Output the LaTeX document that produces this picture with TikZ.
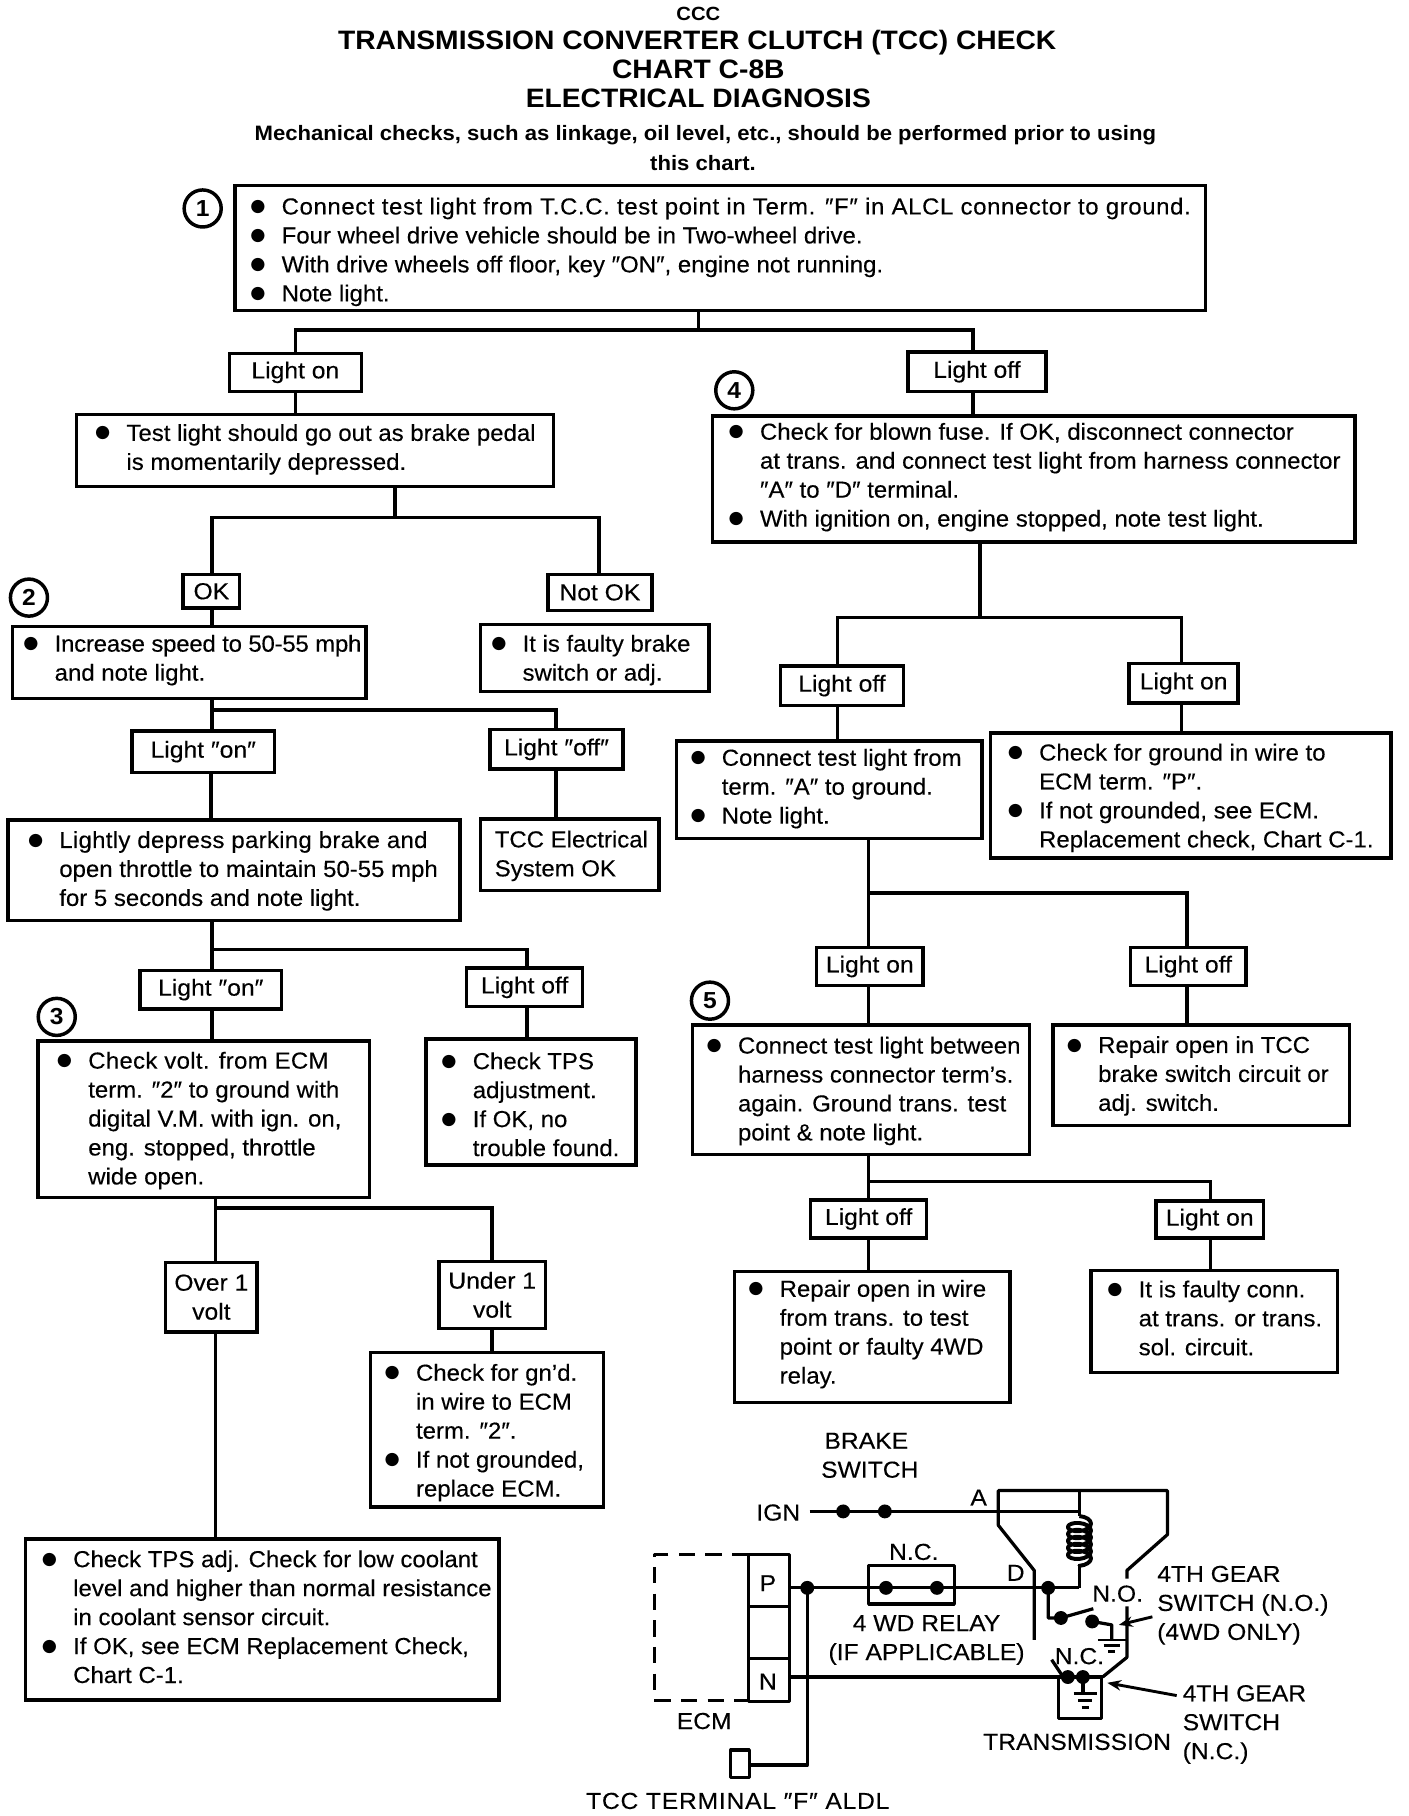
\documentclass[tikz,border=0pt]{standalone}
\usepackage{fontspec}
\setmainfont{Liberation Sans}[FakeStretch=1.035,FakeBold=0.25]
\newfontfamily\wfont{Liberation Sans}[FakeStretch=1.065,FakeBold=0.25]
\newfontfamily\ttlfont{Liberation Sans}[FakeStretch=1.06]
\newfontfamily\dotfont{DejaVu Sans}
\usetikzlibrary{arrows.meta,decorations.pathmorphing}
\tikzset{
 boxn/.style={draw=black,line width=3pt,inner sep=0pt,fill=none},
 conn/.style={draw=black,line width=3pt},
 wire/.style={draw=black,line width=2.8pt,line join=round},
 txt/.style={inner sep=0pt,align=left,font=\fontsize{20}{25}\selectfont},
 wtxt/.style={inner sep=0pt,align=left,font=\wfont\fontsize{20}{25}\selectfont},
 lab/.style={draw=black,line width=3pt,inner sep=0pt,align=center,font=\wfont\fontsize{20}{25}\selectfont},
 num/.style={draw=black,line width=3pt,circle,minimum size=32pt,inner sep=0pt,font=\ttlfont\bfseries\fontsize{20}{22}\selectfont},
 ttl/.style={inner sep=0pt,align=center,font=\ttlfont\bfseries\fontsize{23}{25}\selectfont},
 sttl/.style={inner sep=0pt,align=center,font=\ttlfont\bfseries\fontsize{18}{25}\selectfont},
 jdot/.style={fill=black,draw=none,circle,minimum size=12pt,inner sep=0pt},
 arr/.style={draw=black,line width=2.5pt,-{Stealth[length=12pt,width=9pt]}}
}
\newcommand\bl{\makebox[27pt][l]{\raisebox{2.5pt}{\dotfont\fontsize{15}{15}\selectfont ●}}}
\newcommand\ct{\makebox[27pt]{}}
\newcommand\bx[8]{%
 \node[boxn,minimum width={(#4-#2)*1pt},minimum height={(#5-#3)*1pt}] (#1) at ({(#2+#4)/2},{(#3+#5)/2}) {};
 \node[txt,anchor=west] (#1-t) at (#6,{#7+2}) {#8};}
\newcommand\lb[6]{%
 \node[lab,minimum width={(#4-#2)*1pt},minimum height={(#5-#3)*1pt}] (#1) at ({(#2+#4)/2},{(#3+#5)/2}) {#6};}
\newcommand\vc[3]{\draw[conn] (#1.south -| #3,0) -- (#2.north -| #3,0);}
\newcommand\fork[7]{%
 \coordinate (#1-j) at (#2,#3); \coordinate (#1-l) at (#5,#3); \coordinate (#1-r) at (#7,#3);
 \draw[conn] (#1-j |- #1.south) -- (#1-j);
 \draw[conn] (#1-l |- #4.north) -- (#1-l) -- (#1-r) -- (#1-r |- #6.north);}
\begin{document}
\begin{tikzpicture}[x=1pt,y=-1pt]
\useasboundingbox[fill=white] (0,0) rectangle (1216,1568);
% titles
\node[ttl,font=\ttlfont\bfseries\fontsize{16.5}{20}\selectfont] (t0) at (603,12) {CCC};
\node[ttl] (t1) at (602,37) {TRANSMISSION CONVERTER CLUTCH (TCC) CHECK};
\node[ttl] (t2) at (603,60) {CHART C-8B};
\node[ttl] (t3) at (603,85) {ELECTRICAL DIAGNOSIS};
\node[sttl] (t4) at (609,117) {Mechanical checks, such as linkage, oil level, etc., should be performed prior to using};
\node[sttl] (t5) at (607,141) {this chart.};
% circles
\node[num] (c1) at (175,180) {1};
\node[num] (c2) at (25,516) {2};
\node[num] (c3) at (49,878) {3};
\node[num] (c4) at (634,337) {4};
\node[num] (c5) at (613,864) {5};
% boxes
\bx{b1}{203}{160}{1041}{268}{216}{215.5}{\addfontfeature{LetterSpace=2.6}\bl Connect test light from T.C.C. test point in Term. ″F″ in ALCL connector to ground.\\\bl Four wheel drive vehicle should be in Two-wheel drive.\\\bl With drive wheels off floor, key ″ON″, engine not running.\\\bl Note light.}
\lb{lon}{198}{305}{312}{338}{Light on}
\lb{loff}{784}{304}{903}{338}{Light off}
\bx{b2}{66}{358}{478}{420}{82}{386}{\bl Test light should go out as brake pedal\\\ct is momentarily depressed.}
\lb{ok}{158}{496}{207}{525}{OK}
\lb{nok}{473}{496}{563}{527}{Not OK}
\bx{b3}{11}{541}{316}{603}{20}{568}{\addfontfeature{LetterSpace=-1}\bl Increase speed to 50-55 mph\\\ct and note light.}
\bx{b4}{415}{539}{612}{597}{424}{568}{\bl It is faulty brake\\\ct switch or adj.}
\lb{lon2}{114}{631}{237}{667}{Light ″on″}
\lb{loff2}{423}{630}{538}{664}{Light ″off″}
\bx{b5}{7}{708}{397}{795}{24}{750}{\addfontfeature{LetterSpace=1.3}\bl Lightly depress parking brake and\\\ct open throttle to maintain 50-55 mph\\\ct for 5 seconds and note light.}
\bx{b6}{415}{707}{569}{769}{427}{737}{TCC Electrical\\System OK}
\lb{lon3}{121}{838}{243}{871}{Light ″on″}
\lb{loff3}{403}{836}{503}{869}{Light off}
\bx{b7}{33}{899}{319}{1034}{49}{965.5}{\addfontfeature{LetterSpace=1.3}\bl Check volt. from ECM\\\ct term. ″2″ to ground with\\\ct digital V.M. with ign. on,\\\ct eng. stopped, throttle\\\ct wide open.}
\bx{b8}{368}{897}{549}{1006}{381}{951.5}{\bl Check TPS\\\ct adjustment.\\\bl If OK, no\\\ct trouble found.}
\lb{ov}{143}{1090}{222}{1150}{Over 1\\volt}
\lb{un}{379}{1089}{471}{1147}{Under 1\\volt}
\bx{b9}{320}{1168}{521}{1301}{332}{1235}{\bl Check for gn'd.\\\ct in wire to ECM\\\ct term. ″2″.\\\bl If not grounded,\\\ct replace ECM.}
\bx{b10}{22}{1329}{431}{1468}{36}{1394}{\bl Check TPS adj. Check for low coolant\\\ct level and higher than normal resistance\\\ct in coolant sensor circuit.\\\bl If OK, see ECM Replacement Check,\\\ct Chart C-1.}
\bx{b11}{615}{359}{1170}{468}{629}{410}{\bl Check for blown fuse. If OK, disconnect connector\\\ct at trans. and connect test light from harness connector\\\ct ″A″ to ″D″ terminal.\\\bl With ignition on, engine stopped, note test light.}
\lb{lof4}{674}{575}{780}{609}{Light off}
\lb{lon4}{975}{573}{1069}{607}{Light on}
\bx{b12}{584}{640}{848}{724}{596}{679}{\bl Connect test light from\\\ct term. ″A″ to ground.\\\bl Note light.}
\bx{b13}{855}{633}{1201}{741}{870}{687}{\bl Check for ground in wire to\\\ct ECM term. ″P″.\\\bl If not grounded, see ECM.\\\ct Replacement check, Chart C-1.}
\lb{lon5}{705}{818}{797}{851}{Light on}
\lb{lof5}{976}{818}{1076}{851}{Light off}
\bx{b14}{598}{885}{889}{997}{610}{940}{\bl Connect test light between\\\ct harness connector term's.\\\ct again. Ground trans. test\\\ct point \& note light.}
\bx{b15}{909}{885}{1165}{972}{921}{927}{\bl Repair open in TCC\\\ct brake switch circuit or\\\ct adj. switch.}
\lb{lof6}{700}{1036}{800}{1069}{Light off}
\lb{lon6}{998}{1037}{1091}{1069}{Light on}
\bx{b16}{634}{1098}{872}{1211}{646}{1150}{\bl Repair open in wire\\\ct from trans. to test\\\ct point or faulty 4WD\\\ct relay.}
\bx{b17}{942}{1097}{1155}{1185}{956}{1136}{\bl It is faulty conn.\\\ct at trans. or trans.\\\ct sol. circuit.}
% connectors
\fork{b1}{603}{285}{lon}{255}{loff}{840}
\vc{lon}{b2}{255}
\vc{loff}{b11}{840}
\fork{b2}{341}{447}{ok}{183}{nok}{517}
\vc{ok}{b3}{183}
\fork{b3}{183}{613}{lon2}{183}{loff2}{480}
\vc{lon2}{b5}{182}
\vc{loff2}{b6}{480}
\fork{b5}{183}{820}{lon3}{183}{loff3}{455}
\vc{lon3}{b7}{183}
\vc{loff3}{b8}{455}
\fork{b7}{186}{1043}{ov}{186}{un}{425}
\vc{ov}{b10}{186}
\vc{un}{b9}{425}
\fork{b11}{846}{533}{lof4}{723}{lon4}{1020}
\vc{lof4}{b12}{723}
\vc{lon4}{b13}{1020}
\fork{b12}{750}{771}{lon5}{750}{lof5}{1025}
\vc{lon5}{b14}{750}
\vc{lof5}{b15}{1025}
\fork{b14}{750}{1020}{lof6}{750}{lon6}{1045}
\vc{lof6}{b16}{750}
\vc{lon6}{b17}{1045}
% wiring diagram
\node[wtxt] (w1) at (748,1244) {BRAKE};
\node[wtxt] (w2) at (751,1269) {SWITCH};
\node[wtxt] (w3) at (672,1306) {IGN};
\node[wtxt] (w4) at (845,1293) {A};
\node[wtxt] (w5) at (789,1340) {N.C.};
\node[wtxt] (w6) at (877,1358) {D};
\node[wtxt,align=center] (w7) at (800,1416) {4 WD RELAY\\(IF APPLICABLE)};
\node[wtxt] (w8) at (965,1376) {N.O.};
\node[wtxt,anchor=west] (w9) at (999,1386) {\parbox{160pt}{4TH GEAR\\SWITCH (N.O.)\\(4WD ONLY)}};
\node[wtxt] (w10) at (932,1430) {N.C.};
\node[wtxt,anchor=west] (w11) at (1021,1489) {\parbox{120pt}{4TH GEAR\\SWITCH\\(N.C.)}};
\node[wtxt] (w12) at (930,1504) {TRANSMISSION};
\node[wtxt] (w13) at (608,1486) {ECM};
\node[wtxt] (w14) at (637,1555) {\addfontfeature{LetterSpace=3.3}TCC TERMINAL ″F″ ALDL};
% IGN feed
\draw[wire] (699,1305) -- (932,1305);
\node[jdot] (d1) at (728,1305) {};
\node[jdot] (d2) at (764,1305) {};
% conduit outline
\draw[wire] (893,1416) -- (893,1356) -- (862,1317) -- (862,1287) -- (1008,1287) -- (1008,1325) -- (973,1356) -- (973,1363);
\draw[wire] (973,1387) -- (973,1431) -- (952,1448);
% coil
\draw[wire] (932,1287) -- (932,1309);
\draw[wire,line width=3.4pt,decorate,decoration={coil,amplitude=10pt,segment length=6pt}] (932,1309) -- (932,1352);
\draw[wire] (932,1350) -- (932,1371);
% P wire
\draw[wire] (682,1371) -- (932,1371);
\node[jdot] (d3) at (697,1371) {};
\node[jdot] (d4) at (765,1371) {};
\node[jdot] (d5) at (809,1371) {};
\node[jdot] (d6) at (905,1371) {};
\draw[wire] (750,1352) rectangle (824,1385);
% ALDL
\draw[wire] (697,1371) -- (697,1524) -- (648,1524);
\draw[wire] (631,1511) rectangle (647,1535);
% ECM connector
\draw[wire] (646,1342) rectangle (682,1469);
\draw[wire] (646,1387) -- (682,1387);
\draw[wire] (646,1432) -- (682,1432);
\node[wtxt] (p) at (663,1367) {P};
\node[wtxt] (n) at (663,1452) {N};
\draw[wire,dashed,dash pattern=on 14pt off 9pt] (646,1342) -- (565,1342) -- (565,1468) -- (646,1468);
% N wire
\draw[wire] (682,1448) -- (952,1448);
% N.O. switch
\draw[wire] (905,1371) -- (905,1397) -- (916,1397) -- (944,1389);
\node[jdot] (d7) at (916,1397) {};
\node[jdot] (d8) at (943,1400) {};
\draw[wire] (943,1400) -- (960,1403) -- (960,1416);
\draw[wire,line width=2.5pt] (948,1416) -- (972,1416) (953,1421) -- (967,1421) (957,1426) -- (963,1426);
\draw[arr] (995,1396) -- (966,1403);
% N.C. switch
\draw[wire] (908,1433) -- (918,1448);
\node[jdot] (d9) at (922,1448) {};
\node[jdot] (d10) at (935,1448) {};
\draw[wire] (935,1448) -- (935,1461);
\draw[wire,line width=2.5pt] (927,1462) -- (947,1462) (931,1468) -- (943,1468) (934,1474) -- (940,1474);
\draw[wire] (914,1448) -- (914,1484) -- (951,1484) -- (951,1448);
\draw[arr] (1016,1464) -- (956,1453);
\end{tikzpicture}
\end{document}
